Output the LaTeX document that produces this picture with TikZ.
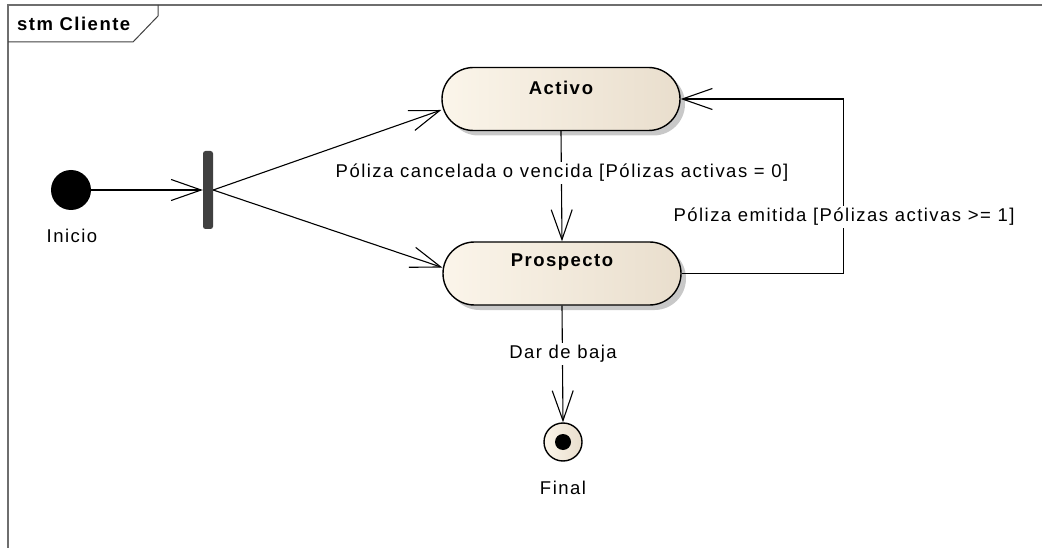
\documentclass[tikz,border=0pt]{standalone}
\usepackage{fontspec}
\setmainfont{Liberation Sans}[LetterSpace=8]
\usetikzlibrary{arrows.meta,calc}
\definecolor{stL}{RGB}{251,245,234}
\definecolor{stR}{RGB}{233,222,205}
\definecolor{frm}{RGB}{110,110,110}
\definecolor{barc}{RGB}{64,64,64}
\definecolor{shd}{RGB}{200,200,200}
\begin{document}
\begin{tikzpicture}[x=1pt,y=-1pt,
  every node/.style={font=\fontsize{18.5}{21}\selectfont, inner sep=1pt},
  boldtxt/.style={font=\fontsize{18.5}{21}\selectfont\bfseries},
  conn/.style={line width=1.1pt, -{Straight Barb[length=30pt,width=21pt,line width=1.1pt]}},
  statebox/.style={draw=black, line width=1.4pt, rounded corners=31.5pt, minimum width=238pt, minimum height=63pt, inner sep=0pt, left color=stL, right color=stR},
  stateshadow/.style={fill=shd, rounded corners=31.5pt, minimum width=238pt, minimum height=63pt, inner sep=0pt},
  lbl/.style={fill=white, inner sep=2pt}]
\useasboundingbox (0,0) rectangle (1042,548);
% frame
\draw[frm, line width=1.3pt] (8,548) -- (8,5) -- (1042,5);
\draw[black!75, line width=1pt] (158,5) -- (158,16) -- (133,42) -- (8,42);
\node[boldtxt, anchor=west] (title) at (16,24) {stm Cliente};
% initial and fork
\node[circle, fill=black, minimum size=40pt, inner sep=0pt] (inicio) at (71,190) {};
\node (inicioL) at (72,236) {Inicio};
\node[fill=barc, rounded corners=2.5pt, minimum width=10pt, minimum height=78pt, inner sep=0pt] (fork) at (208,190) {};
% states
\node[stateshadow] (activoS) at (566,104) {};
\node[statebox] (activo) at (561,99) {};
\node[boldtxt] (activoT) at (561,88) {Activ\kern2pt o};
\node[stateshadow] (prospectoS) at (567,278.5) {};
\node[statebox] (prospecto) at (562,273.5) {};
\node[boldtxt] (prospectoT) at (562,262) {Prospecto};
% final
\node[circle, draw=black, line width=1.4pt, minimum size=38pt, inner sep=0pt, left color=stL, right color=stR] (final) at (563,442) {};
\node[circle, fill=black, minimum size=16pt, inner sep=0pt] (finaldot) at (final) {};
\node (finalL) at (563,488) {Final};
% connectors
\draw[conn] (inicio.east) -- (fork.west);
\draw[conn] (fork.east) -- ([yshift=-11pt]activo.west);
\draw[conn] (fork.east) -- ([yshift=6pt]prospecto.west);
\draw[conn] (activo.south) -- (prospecto.north);
\draw[conn] (prospecto.east) -- ++(162,0) |- (activo.east);
\draw[conn] (prospecto.south) -- (final.north);
% labels
\node[lbl] (lcanc) at (562,173) {Póliza cancelada o vencida [Pólizas activas = 0]};
\node[lbl] (lemit) at (844,217) {Póliza emitida [Pólizas activas >= 1]};
\node[lbl] (lbaja) at (563,354) {Dar de baja};
\end{tikzpicture}
\end{document}
